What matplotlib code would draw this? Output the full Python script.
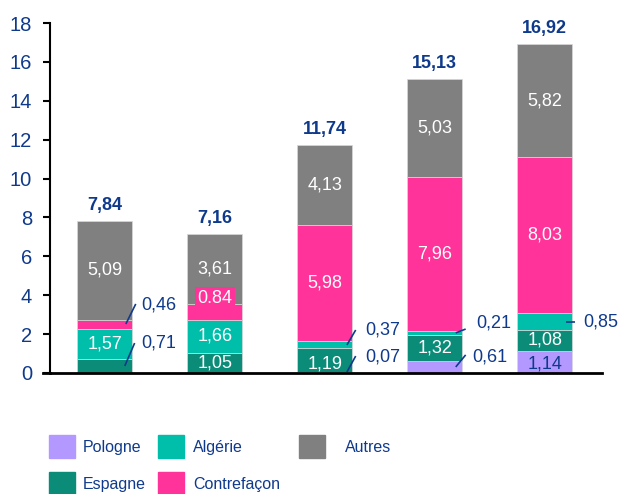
import matplotlib
matplotlib.use("Agg")
import matplotlib.pyplot as plt
from matplotlib.patches import Rectangle
import numpy as np

plt.rcParams['font.family'] = ['Liberation Sans', 'DejaVu Sans']

series = ["Pologne", "Espagne", "Algérie", "Contrefaçon", "Autres"]
pologne = [0.00, 0.00, 0.07, 0.61, 1.14]
espagne = [0.71, 1.05, 1.19, 1.32, 1.08]
algerie = [1.57, 1.66, 0.37, 0.21, 0.85]
contrefacon = [0.46, 0.84, 5.98, 7.96, 8.03]
autres = [5.09, 3.61, 4.13, 5.03, 5.82]
totals = ["7,84", "7,16", "11,74", "15,13", "16,92"]
yticks = [0, 2, 4, 6, 8, 10, 12, 14, 16, 18]

colors = ["#B399FF", "#0B8C78", "#00BFAA", "#FF3399", "#808080"]
dark = "#0F3A8C"

data = [pologne, espagne, algerie, contrefacon, autres]
x = np.arange(len(autres))

fig = plt.figure(figsize=(6.2, 4.94), dpi=100)
ax = fig.add_axes([0.0806, 0.245, 0.971 - 0.0806, 0.9534 - 0.245])

bottom = np.zeros(len(x))
bottoms = []
for vals, c in zip(data, colors):
    bottoms.append(bottom.copy())
    ax.bar(x, vals, 0.5, bottom=bottom, color=c, edgecolor="#d8d8d8", linewidth=0.5)
    bottom = bottom + np.array(vals)

def fmt(v, sep=","):
    return f"{v:.2f}".replace(".", sep)

FS = 13

# inside labels: (series index, bar index, color, y-offset)
inside = [
    (2, 0, "white", 0), (4, 0, "white", 0),
    (1, 1, "white", -0.02), (2, 1, "white", 0), (4, 1, "white", 0),
    (1, 2, "white", -0.18), (3, 2, "white", 0), (4, 2, "white", 0),
    (1, 3, "white", 0), (3, 3, "white", 0), (4, 3, "white", 0),
    (0, 4, dark, -0.12), (1, 4, "white", 0), (3, 4, "white", 0), (4, 4, "white", 0),
]
for si, bi, col, dy in inside:
    v = data[si][bi]
    yc = bottoms[si][bi] + v / 2 + dy
    ax.text(x[bi], yc, fmt(v), ha="center", va="center", color=col, fontsize=FS)

# Contrefaçon label on bar 2 with pink box
v = contrefacon[1]
ax.text(x[1], bottoms[3][1] + v / 2 + 0.72, fmt(v, "."), ha="center", va="center",
        color="white", fontsize=FS,
        bbox=dict(boxstyle="square,pad=0.15", fc=colors[3], ec="none"))

# outside labels with leader lines: (series, bar, line start, line end, text pos)
outside = [
    (3, 0, (0.19, 2.52), (0.28, 3.55), (0.33, 3.5)),
    (1, 0, (0.18, 0.36), (0.27, 1.54), (0.33, 1.54)),
    (2, 2, (0.20, 1.44), (0.28, 2.21), (0.37, 2.21)),
    (0, 2, (0.20, 0.05), (0.28, 0.87), (0.37, 0.82)),
    (2, 3, (0.19, 2.06), (0.28, 2.26), (0.38, 2.57)),
    (0, 3, (0.19, 0.31), (0.28, 0.93), (0.34, 0.82)),
    (2, 4, (0.19, 2.62), (0.27, 2.62), (0.35, 2.62)),
]
for si, bi, p0, p1, pt in outside:
    ax.plot([x[bi] + p0[0], x[bi] + p1[0]], [p0[1], p1[1]], color=dark, lw=1.2,
            solid_capstyle="butt")
    ax.text(x[bi] + pt[0], pt[1], fmt(data[si][bi]), ha="left", va="center",
            color=dark, fontsize=FS)

# totals
for xi, tot, h in zip(x, totals, bottom):
    ax.annotate(tot, (xi, h), xytext=(0, 5), textcoords="offset points",
                ha="center", va="bottom", color=dark, fontsize=13, fontweight="bold")

ax.set_xlim(-0.5, 4.52)
ax.set_ylim(0, 18)
ax.set_yticks(yticks)
ax.set_yticklabels([str(t) for t in yticks], color=dark, fontsize=14.5)
ax.set_xticks([])
for s in ["top", "right"]:
    ax.spines[s].set_visible(False)
ax.spines["left"].set_linewidth(1.5)
ax.spines["bottom"].set_linewidth(2)
ax.spines["left"].set_color("black")
ax.tick_params(axis="y", length=5, width=1.5, direction="out", pad=8)
ax.plot([-0.565, -0.5], [0, 0], color="black", lw=2, clip_on=False)

# legend
W, H = 620, 494
legend_items = [
    (0, 49, 435, 83), (2, 158, 435, 193), (4, 299, 435, 345),
    (1, 49, 472, 83), (3, 158, 472, 193),
]
for si, sx, sy, tx in legend_items:
    fig.patches.append(Rectangle((sx / W, 1 - (sy + 23) / H), 26 / W, 23 / H,
                                 transform=fig.transFigure, color=colors[si]))
    fig.text(tx / W, 1 - (sy + 12) / H, series[si], ha="left", va="center",
             color=dark, fontsize=11.5)

fig.savefig("out.png", dpi=100)
